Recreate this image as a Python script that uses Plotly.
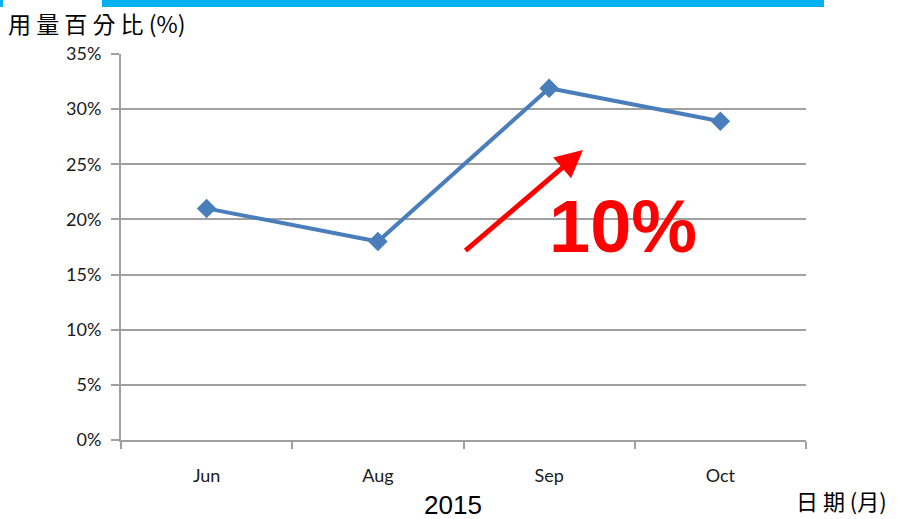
import plotly.graph_objects as go

months = ["Jun", "Aug", "Sep", "Oct"]
usage_pct = [21.0, 18.0, 31.9, 28.9]
y_ticks = [0, 5, 10, 15, 20, 25, 30, 35]
y_tick_labels = [f"{v}%" for v in y_ticks]

W, H = 903, 519
L, T = 121, 54
PW = 806 - 121
PH = 440 - 54
R = W - L - PW
B = H - T - PH


def px(x):
    return (x - L) / PW


def py(y):
    return (T + PH - y) / PH


fig = go.Figure()
fig.add_trace(go.Scatter(
    x=months, y=usage_pct, mode="lines+markers",
    line=dict(color="#4A7EBB", width=4),
    marker=dict(symbol="diamond", size=15, color="#4A7EBB"),
    showlegend=False,
))

tick_font = dict(family="Lato, Open Sans, sans-serif", size=18, color="#1a1a1a")
fig.update_layout(
    width=W, height=H,
    margin=dict(l=L, r=R, t=T, b=B),
    paper_bgcolor="white", plot_bgcolor="white",
    xaxis=dict(
        type="category", tickson="boundaries", ticks="outside", ticklen=7,
        tickcolor="#A0A0A0", tickwidth=2, showline=True, linecolor="#A0A0A0",
        linewidth=2, showgrid=False, tickfont=tick_font, ticklabelstandoff=18,
        range=[-0.5, 3.5],
    ),
    yaxis=dict(
        range=[0, 35], tickvals=y_ticks, ticktext=y_tick_labels,
        ticks="outside", ticklen=8, tickcolor="#A0A0A0", tickwidth=2,
        showline=True, linecolor="#A0A0A0", linewidth=2,
        showgrid=True, gridcolor="#A0A0A0", gridwidth=2,
        zeroline=False, tickfont=tick_font, ticklabelstandoff=6,
    ),
)

# top decorative bars
fig.add_shape(type="rect", xref="paper", yref="paper",
              x0=px(102), x1=px(824), y0=py(7), y1=py(-2),
              fillcolor="#00B0F0", line_width=0)
fig.add_shape(type="rect", xref="paper", yref="paper",
              x0=px(-2), x1=px(3), y0=py(7), y1=py(-2),
              fillcolor="#00B0F0", line_width=0)

fig.add_annotation(xref="paper", yref="paper", x=px(6), y=py(23),
                   xanchor="left", yanchor="middle", showarrow=False,
                   text="用 量 百 分 比 (%)",
                   font=dict(family="Noto Sans CJK TC", size=23, color="black"))
fig.add_annotation(xref="paper", yref="paper", x=px(452.5), y=py(505),
                   xanchor="center", yanchor="middle", showarrow=False,
                   text="2015",
                   font=dict(family="Liberation Sans, Arial", size=26, color="black"))
fig.add_annotation(xref="paper", yref="paper", x=px(841), y=py(500),
                   xanchor="center", yanchor="middle", showarrow=False,
                   text="日 期 (月)",
                   font=dict(family="Noto Sans CJK TC", size=22, color="black"))

# red arrow and label
fig.add_annotation(xref="paper", yref="paper", x=px(583), y=py(150),
                   ax=464 - 583, ay=252 - 150, axref="pixel", ayref="pixel",
                   showarrow=True, arrowhead=2, arrowsize=1.1, arrowwidth=5,
                   arrowcolor="#FF0000", text="")
fig.add_annotation(xref="paper", yref="paper", x=px(623), y=py(226),
                   xanchor="center", yanchor="middle", showarrow=False,
                   text="<b>10%</b>",
                   font=dict(family="Liberation Sans, Arial", size=74, color="#FF0000"))

fig.write_html("out.html", config={"displayModeBar": False},
               post_script="document.body.style.margin='0px';document.body.style.overflow='hidden';")
